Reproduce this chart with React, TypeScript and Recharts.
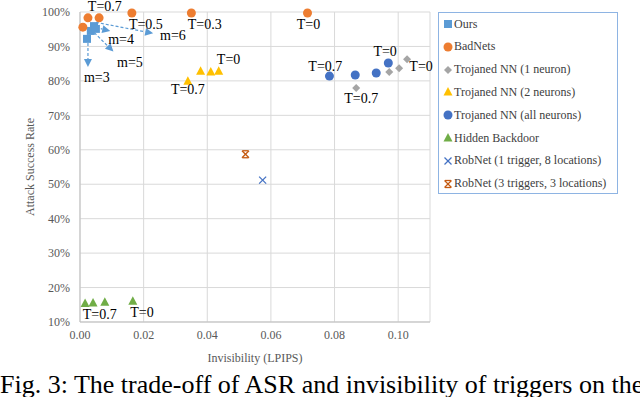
import React from "react";
import {
  ScatterChart,
  Scatter,
  XAxis,
  YAxis,
  CartesianGrid,
  ReferenceDot,
  ReferenceLine,
  Label,
} from "recharts";

// values (x = LPIPS, y = ASR in %)
const oursX = [0.0022, 0.0034, 0.0044, 0.005];
const oursY = [92.2, 94.5, 95.9, 95.1];
const badNetsX = [0.0009, 0.0025, 0.006, 0.0163, 0.035, 0.0715];
const badNetsY = [95.6, 98.3, 98.3, 99.7, 99.7, 99.7];
const troj1X = [0.0868, 0.0972, 0.1003, 0.1028];
const troj1Y = [77.9, 82.6, 83.7, 86.3];
const troj2X = [0.0339, 0.0379, 0.0411, 0.0436];
const troj2Y = [79.9, 82.8, 82.6, 82.8];
const trojAllX = [0.0784, 0.0865, 0.0931, 0.0969];
const trojAllY = [81.4, 81.7, 82.3, 85.2];
const hiddenX = [0.0016, 0.0041, 0.0078, 0.0166];
const hiddenY = [15.4, 15.5, 15.7, 16.0];
const robnet1X = [0.0574];
const robnet1Y = [51.2];
const robnet3X = [0.052];
const robnet3Y = [58.7];

const xTicks = [0, 0.02, 0.04, 0.06, 0.08, 0.1];
const yTicks = [10, 20, 30, 40, 50, 60, 70, 80, 90, 100];

const notes = [
  { x: 0.0078, y: 101.6, text: "T=0.7" },
  { x: 0.0207, y: 96.5, text: "T=0.5" },
  { x: 0.0392, y: 96.5, text: "T=0.3" },
  { x: 0.0718, y: 96.5, text: "T=0" },
  { x: 0.0129, y: 92.1, text: "m=4" },
  { x: 0.0292, y: 93.3, text: "m=6" },
  { x: 0.0157, y: 85.5, text: "m=5" },
  { x: 0.0053, y: 81.1, text: "m=3" },
  { x: 0.0339, y: 77.6, text: "T=0.7" },
  { x: 0.0467, y: 86.3, text: "T=0" },
  { x: 0.0771, y: 84.3, text: "T=0.7" },
  { x: 0.0959, y: 88.7, text: "T=0" },
  { x: 0.1072, y: 84.3, text: "T=0" },
  { x: 0.0884, y: 75.0, text: "T=0.7" },
  { x: 0.0062, y: 12.2, text: "T=0.7" },
  { x: 0.0195, y: 12.8, text: "T=0" },
];

const arrows = [
  { from: [0.0025, 91], to: [0.0025, 84] },
  { from: [0.005, 95.5], to: [0.0095, 94.5] },
  { from: [0.0045, 94], to: [0.0105, 88.5] },
  { from: [0.005, 97], to: [0.023, 93.8] },
];

const zip = (xs: number[], ys: number[]) => xs.map((x, i) => ({ x, y: ys[i] }));

const serif = "'Liberation Serif', 'Times New Roman', serif";

type Kind = "square" | "circle" | "diamond" | "triangle" | "x" | "star";

function Marker({ kind, cx, cy, color }: { kind: Kind; cx: number; cy: number; color: string }) {
  switch (kind) {
    case "square":
      return <rect x={cx - 4} y={cy - 4} width={8} height={8} fill={color} />;
    case "circle":
      return <circle cx={cx} cy={cy} r={4.5} fill={color} />;
    case "diamond":
      return (
        <polygon
          points={`${cx},${cy - 4} ${cx + 4},${cy} ${cx},${cy + 4} ${cx - 4},${cy}`}
          fill={color}
        />
      );
    case "triangle":
      return (
        <polygon
          points={`${cx},${cy - 5} ${cx + 4.5},${cy + 3.5} ${cx - 4.5},${cy + 3.5}`}
          fill={color}
        />
      );
    case "x":
      return (
        <g stroke={color} strokeWidth={1.3}>
          <line x1={cx - 3.5} y1={cy - 3.5} x2={cx + 3.5} y2={cy + 3.5} />
          <line x1={cx - 3.5} y1={cy + 3.5} x2={cx + 3.5} y2={cy - 3.5} />
        </g>
      );
    default:
      return (
        <g stroke={color} strokeWidth={1.3}>
          <line x1={cx - 3.5} y1={cy - 3.5} x2={cx + 3.5} y2={cy + 3.5} />
          <line x1={cx - 3.5} y1={cy + 3.5} x2={cx + 3.5} y2={cy - 3.5} />
          <line x1={cx - 3} y1={cy - 3.5} x2={cx + 3} y2={cy - 3.5} />
          <line x1={cx - 3} y1={cy + 3.5} x2={cx + 3} y2={cy + 3.5} />
        </g>
      );
  }
}

const series: { name: string; kind: Kind; color: string; data: { x: number; y: number }[] }[] = [
  { name: "Ours", kind: "square", color: "#5B9BD5", data: zip(oursX, oursY) },
  { name: "BadNets", kind: "circle", color: "#ED7D31", data: zip(badNetsX, badNetsY) },
  { name: "Trojaned NN (1 neuron)", kind: "diamond", color: "#A5A5A5", data: zip(troj1X, troj1Y) },
  { name: "Trojaned NN (2 neurons)", kind: "triangle", color: "#FFC000", data: zip(troj2X, troj2Y) },
  { name: "Trojaned NN (all neurons)", kind: "circle", color: "#4472C4", data: zip(trojAllX, trojAllY) },
  { name: "Hidden Backdoor", kind: "triangle", color: "#70AD47", data: zip(hiddenX, hiddenY) },
  { name: "RobNet (1 trigger, 8 locations)", kind: "x", color: "#4472C4", data: zip(robnet1X, robnet1Y) },
  { name: "RobNet (3 triggers, 3 locations)", kind: "star", color: "#C55A11", data: zip(robnet3X, robnet3Y) },
];

function Arrow(props: any) {
  const { x1, y1, x2, y2 } = props;
  const ang = Math.atan2(y2 - y1, x2 - x1);
  const len = 8;
  const w = 4;
  const bx = x2 - len * Math.cos(ang);
  const by = y2 - len * Math.sin(ang);
  const px = -Math.sin(ang) * w;
  const py = Math.cos(ang) * w;
  return (
    <g>
      <line x1={x1} y1={y1} x2={bx} y2={by} stroke="#5B9BD5" strokeWidth={1.2} strokeDasharray="3 2" />
      <polygon points={`${x2},${y2} ${bx + px},${by + py} ${bx - px},${by - py}`} fill="#5B9BD5" />
    </g>
  );
}

function YTitle(props: any) {
  const cy = props.viewBox ? props.viewBox.y + props.viewBox.height / 2 : 167;
  return (
    <text
      x={30}
      y={cy}
      transform={`rotate(-90 30 ${cy})`}
      textAnchor="middle"
      dominantBaseline="central"
      fontFamily={serif}
      fontSize={12}
      fill="#595959"
    >
      Attack Success Rate
    </text>
  );
}

export default function App() {
  const tick = { fontFamily: serif, fontSize: 12, fill: "#595959" };
  return (
    <div style={{ position: "relative", width: 640, height: 397, overflow: "hidden", background: "#fff" }}>
      <style>{`body{margin:0}`}</style>
      <ScatterChart width={640} height={397} margin={{ top: 12, right: 210, left: 0, bottom: 45 }}>
        <CartesianGrid stroke="#D9D9D9" />
        <XAxis
          type="number"
          dataKey="x"
          domain={[0, 0.11]}
          ticks={xTicks}
          tickFormatter={(v: number) => v.toFixed(2)}
          tick={tick}
          tickLine={false}
          tickMargin={2}
          axisLine={{ stroke: "#BFBFBF" }}
          height={30}
        >
          <Label
            value="Invisibility (LPIPS)"
            position="bottom"
            offset={1}
            style={{ fontFamily: serif, fontSize: 12, fill: "#595959" }}
          />
        </XAxis>
        <YAxis
          type="number"
          dataKey="y"
          domain={[10, 100]}
          ticks={yTicks}
          tickFormatter={(v: number) => `${v}%`}
          tick={tick}
          tickLine={false}
          tickMargin={4}
          axisLine={{ stroke: "#BFBFBF" }}
          width={80}
        >
          <Label content={<YTitle />} />
        </YAxis>
        {arrows.map((a, i) => (
          <ReferenceLine
            key={`a${i}`}
            segment={[
              { x: a.from[0], y: a.from[1] },
              { x: a.to[0], y: a.to[1] },
            ]}
            shape={Arrow}
            ifOverflow="visible"
          />
        ))}
        {series.map((s) => (
          <Scatter
            key={s.name}
            name={s.name}
            data={s.data}
            isAnimationActive={false}
            shape={(p: any) => <Marker kind={s.kind} cx={p.cx} cy={p.cy} color={s.color} />}
          />
        ))}
        {notes.map((n, i) => (
          <ReferenceDot
            key={`n${i}`}
            x={n.x}
            y={n.y}
            r={0}
            stroke="none"
            fill="none"
            ifOverflow="visible"
            label={{
              value: n.text,
              position: "center",
              style: { fontFamily: serif, fontSize: 14, fill: "#000" },
            }}
          />
        ))}
      </ScatterChart>

      <div
        style={{
          position: "absolute",
          left: 438,
          top: 12,
          width: 180,
          height: 182,
          border: "1px solid #8EB4E3",
          boxSizing: "border-box",
          fontFamily: serif,
          fontSize: 12,
          color: "#404040",
        }}
      >
        {series.map((s, i) => (
          <div
            key={s.name}
            style={{
              position: "absolute",
              left: 4,
              top: 4 + i * 22.8,
              height: 14,
              display: "flex",
              alignItems: "center",
              whiteSpace: "nowrap",
            }}
          >
            <svg width={10} height={12} style={{ marginRight: 1 }}>
              <Marker kind={s.kind} cx={5} cy={6} color={s.color} />
            </svg>
            <span>{s.name}</span>
          </div>
        ))}
      </div>

      <div
        style={{
          position: "absolute",
          left: 0,
          top: 372,
          whiteSpace: "nowrap",
          fontFamily: serif,
          fontSize: 26,
          lineHeight: 1,
          color: "#000",
        }}
      >
        Fig. 3: The trade-off of ASR and invisibility of triggers on the
      </div>
    </div>
  );
}
